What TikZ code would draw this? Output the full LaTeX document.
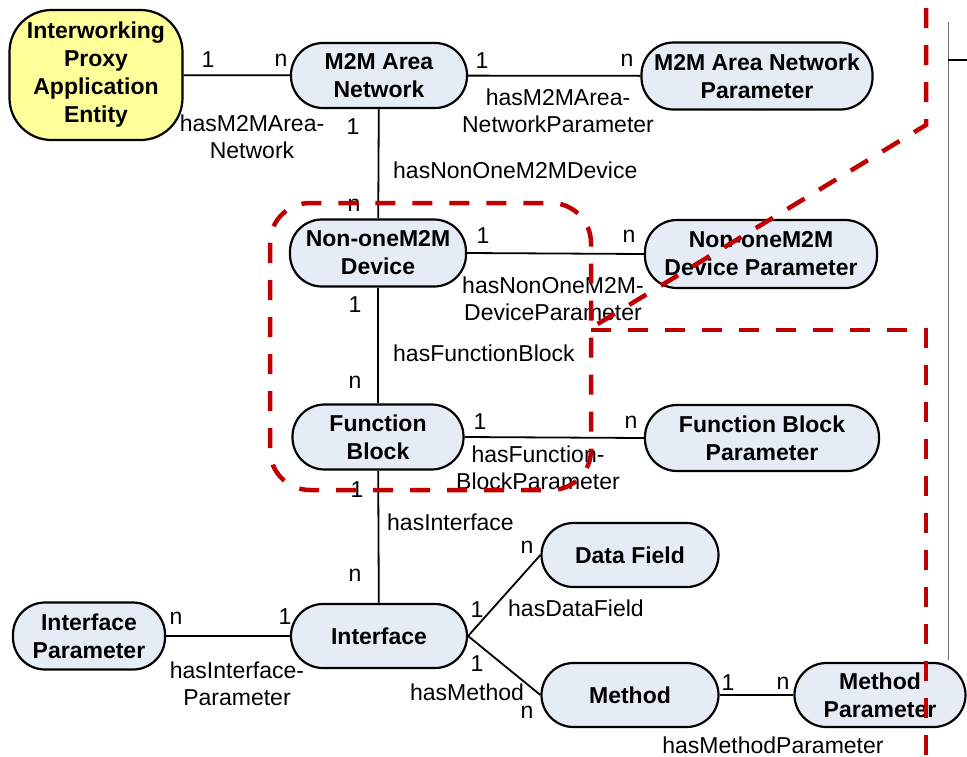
\documentclass[tikz,border=0pt]{standalone}
\usepackage{fontspec}
\setmainfont{Liberation Sans}
\definecolor{entfill}{HTML}{E6ECF6}
\definecolor{aefill}{HTML}{FFFF99}
\definecolor{scopered}{HTML}{C00000}
\definecolor{rulegray}{HTML}{707070}
\begin{document}
\begin{tikzpicture}[x=1pt,y=-1pt,
  entity/.style={draw=black, line width=2.2pt, fill=entfill, rounded corners=32pt,
    inner sep=0pt, align=center, font=\bfseries\fontsize{23}{28}\selectfont},
  aebox/.style={entity, fill=aefill, rounded corners=42pt},
  link/.style={draw=black, line width=1.8pt},
  lbl/.style={inner sep=0pt, align=center, font=\fontsize{23}{27}\selectfont},
  scopeline/.style={draw=scopered, line width=4.5pt, dash pattern=on 20pt off 17pt},
  ruleline/.style={draw=rulegray, line width=1pt}]
\useasboundingbox (0,0) rectangle (967,756);

% entities
\node[aebox, minimum width=173pt, minimum height=130pt] (ipe) at (96,75)
  {Interworking\\Proxy\\Application\\Entity};
\node[entity, minimum width=176pt, minimum height=65pt] (man) at (379,75.5) {M2M Area\\Network};
\node[entity, minimum width=231pt, minimum height=67pt] (manp) at (757,76) {M2M Area Network\\Parameter};
\node[entity, minimum width=176pt, minimum height=67pt] (dev) at (378,253) {Non-oneM2M\\Device};
\node[entity, minimum width=232pt, minimum height=68pt] (devp) at (761,254) {Non-oneM2M\\Device Parameter};
\node[entity, minimum width=171pt, minimum height=65pt] (fb) at (378,437) {Function\\Block};
\node[entity, minimum width=234pt, minimum height=66pt] (fbp) at (762,438) {Function Block\\Parameter};
\node[entity, minimum width=177pt, minimum height=64pt] (df) at (630,555) {Data Field};
\node[entity, minimum width=176pt, minimum height=64pt] (itf) at (379,636) {Interface};
\node[entity, minimum width=152pt, minimum height=67pt] (itfp) at (89,636) {Interface\\Parameter};
\node[entity, minimum width=177pt, minimum height=64pt] (mth) at (630,695) {Method};
\node[entity, minimum width=171pt, minimum height=64pt] (mthp) at (880,695) {Method\\Parameter};

% relations
\draw[link] (ipe) -- (man);
\draw[link] (man) -- (manp);
\draw[link] (man) -- (dev);
\draw[link] (dev.east) -- (devp.west);
\draw[link] (dev) -- (fb);
\draw[link] (fb.east) -- (fbp.west);
\draw[link] (fb) -- (itf);
\draw[link] (itfp) -- (itf);
\draw[link] (itf.east) -- (df.west);
\draw[link] (itf.east) -- (mth.west);
\draw[link] (mth) -- (mthp);

% cardinalities and relation names
\node[lbl] (c1) at (208,60) {1};
\node[lbl] (c2) at (281,60) {n};
\node[lbl] (r1) at (252,137) {hasM2MArea-\\Network};
\node[lbl] (c3) at (482,61) {1};
\node[lbl] (c4) at (627,60) {n};
\node[lbl] (r2) at (558,111) {hasM2MArea-\\NetworkParameter};
\node[lbl] (c5) at (353,127) {1};
\node[lbl, anchor=west] (r3) at (393,170) {hasNonOneM2MDevice};
\node[lbl] (c6) at (354,205) {n};
\node[lbl] (c7) at (483,236) {1};
\node[lbl] (c8) at (629,236) {n};
\node[lbl] (r4) at (553,299) {hasNonOneM2M-\\DeviceParameter};
\node[lbl] (c9) at (355,305) {1};
\node[lbl, anchor=west] (r5) at (393,353) {hasFunctionBlock};
\node[lbl] (c10) at (355,382) {n};
\node[lbl] (c11) at (480,422) {1};
\node[lbl] (c12) at (631,422) {n};
\node[lbl] (r6) at (538,468) {hasFunction-\\BlockParameter};
\node[lbl] (c13) at (357,490) {1};
\node[lbl, anchor=west] (r7) at (387,522) {hasInterface};
\node[lbl] (c14) at (355,575) {n};
\node[lbl] (c15) at (176,618) {n};
\node[lbl] (c16) at (285,617) {1};
\node[lbl] (r8) at (237,684) {hasInterface-\\Parameter};
\node[lbl] (c17) at (477,610) {1};
\node[lbl] (c18) at (527,547) {n};
\node[lbl, anchor=west] (r9) at (508,608) {hasDataField};
\node[lbl] (c19) at (477,664) {1};
\node[lbl] (r10) at (467,692) {hasMethod};
\node[lbl] (c20) at (527,712) {n};
\node[lbl] (c21) at (728,683) {1};
\node[lbl] (c22) at (783,683) {n};
\node[lbl] (r11) at (773,745) {hasMethodParameter};

% side rule
\coordinate (rt) at (948,22);
\coordinate (rb) at (948,660);
\coordinate (tk) at (967,60);
\draw[ruleline] (rt) -- (rb);
\draw[line width=1.5pt] (948,60) -- (tk);

% dashed scope outlines
\draw[scopeline, rounded corners=40pt] (270,203) rectangle (591,490);
\draw[scopeline] (926,8) -- (926,125) -- (591,328);
\draw[scopeline] (591,330) -- (926,330) -- (926,760);
\end{tikzpicture}
\end{document}
